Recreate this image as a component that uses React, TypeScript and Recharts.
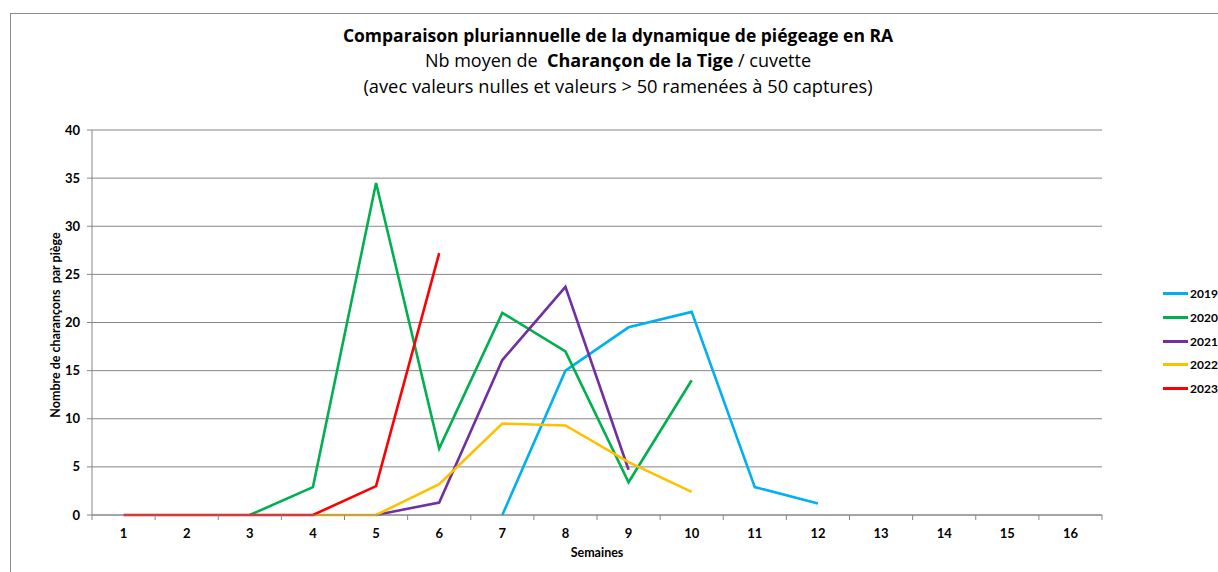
import React from 'react';
import { LineChart, Line, XAxis, YAxis, CartesianGrid } from 'recharts';

const weeks = [1, 2, 3, 4, 5, 6, 7, 8, 9, 10, 11, 12, 13, 14, 15, 16];
const yTicks = [0, 5, 10, 15, 20, 25, 30, 35, 40];

// values by week (null = no capture recorded)
const v2019 = [null, null, null, null, null, null, 0, 15, 19.5, 21.1, 2.9, 1.2, null, null, null, null];
const v2020 = [null, null, 0, 2.9, 34.5, 6.9, 21, 17, 3.4, 14, null, null, null, null, null, null];
const v2021 = [null, null, null, null, 0, 1.3, 16.1, 23.7, 4.7, null, null, null, null, null, null, null];
const v2022 = [null, null, null, 0, 0, 3.2, 9.5, 9.3, 5.5, 2.4, null, null, null, null, null, null];
const v2023 = [0, 0, 0, 0, 3, 27.2, null, null, null, null, null, null, null, null, null, null];

const series = [
  { key: 'y2019', name: '2019', color: '#00B0F0', values: v2019 },
  { key: 'y2020', name: '2020', color: '#00B050', values: v2020 },
  { key: 'y2021', name: '2021', color: '#7030A0', values: v2021 },
  { key: 'y2022', name: '2022', color: '#FFC000', values: v2022 },
  { key: 'y2023', name: '2023', color: '#FF0000', values: v2023 },
];

const data = weeks.map((w, i) => {
  const row: Record<string, number | null> = { week: w };
  series.forEach((s) => {
    row[s.key] = s.values[i];
  });
  return row;
});

const FONT = 'Lato, "Open Sans", sans-serif';
const TITLE_FONT = '"Open Sans", Lato, sans-serif';
const AXIS_GRAY = '#868686';
const STEP = 1010 / 16;

function WeekTick(props: any) {
  const { x, y, payload, index } = props;
  return (
    <g>
      <line x1={x + STEP / 2} y1={y - 8} x2={x + STEP / 2} y2={y - 3} stroke={AXIS_GRAY} />
      {index === 0 && <line x1={x - STEP / 2} y1={y - 8} x2={x - STEP / 2} y2={y - 3} stroke={AXIS_GRAY} />}
      <text x={x} y={y + 15} textAnchor="middle" fontSize={13} fontWeight={700} fill="#000" fontFamily={FONT}>
        {payload.value}
      </text>
    </g>
  );
}

function SideLegend() {
  return (
    <div style={{ position: 'absolute', left: 1163, top: 282 }}>
      {series.map((s) => (
        <div key={s.key} style={{ display: 'flex', alignItems: 'center', height: 23.7 }}>
          <div style={{ width: 25, height: 3, background: s.color, marginRight: 2 }} />
          <span style={{ fontSize: 12, fontWeight: 700, fontFamily: FONT, color: '#000' }}>{s.name}</span>
        </div>
      ))}
    </div>
  );
}

export default function App() {
  return (
    <div style={{ position: 'absolute', left: 0, top: 0, width: 1218, height: 572, background: '#fff', overflow: 'hidden' }}>
      <div style={{ position: 'absolute', left: 10, top: 13, width: 1220, height: 600, borderLeft: '1px solid #8c8c8c', borderTop: '1px solid #8c8c8c' }} />
      <div style={{ position: 'absolute', left: 0, top: 23, width: 1236, textAlign: 'center', fontFamily: TITLE_FONT, color: '#000', lineHeight: '25px' }}>
        <div style={{ fontSize: 17.5, fontWeight: 700 }}>Comparaison pluriannuelle de la dynamique de piégeage en RA</div>
        <div style={{ fontSize: 18 }}>
          Nb moyen de&nbsp; <b>Charançon de la Tige</b> / cuvette
        </div>
        <div style={{ fontSize: 18.3 }}>(avec valeurs nulles et valeurs &gt; 50 ramenées à 50 captures)</div>
      </div>
      <div style={{ position: 'absolute', left: 0, top: 0 }}>
        <LineChart width={1218} height={572} data={data} margin={{ top: 130, right: 116, bottom: 0, left: 0 }}>
          <CartesianGrid vertical={false} stroke={AXIS_GRAY} strokeWidth={1} />
          <XAxis
            dataKey="week"
            type="number"
            domain={[0.5, 16.5]}
            ticks={weeks}
            tickLine={false}
            axisLine={{ stroke: AXIS_GRAY }}
            tick={<WeekTick />}
            height={57}
            interval={0}
          />
          <YAxis
            domain={[0, 40]}
            ticks={yTicks}
            width={92}
            axisLine={{ stroke: AXIS_GRAY }}
            tickLine={{ stroke: AXIS_GRAY }}
            tickSize={5}
            tickMargin={7}
            tick={{ fontSize: 13, fontWeight: 700, fill: '#000', fontFamily: FONT }}
          />
          {series.map((s) => (
            <Line
              key={s.key}
              dataKey={s.key}
              name={s.name}
              stroke={s.color}
              strokeWidth={2.6}
              dot={false}
              activeDot={false}
              connectNulls={false}
              isAnimationActive={false}
            />
          ))}
        </LineChart>
      </div>
      <div style={{ position: 'absolute', left: 597, top: 545, transform: 'translateX(-50%)', fontFamily: FONT, fontSize: 12.5, fontWeight: 700, color: '#000' }}>
        Semaines
      </div>
      <div
        style={{
          position: 'absolute',
          left: 55,
          top: 325,
          transform: 'translate(-50%, -50%) rotate(-90deg)',
          whiteSpace: 'nowrap',
          fontFamily: FONT,
          fontSize: 12.5,
          fontWeight: 700,
          color: '#000',
        }}
      >
        Nombre de charançons&nbsp; par piège
      </div>
      <SideLegend />
    </div>
  );
}
